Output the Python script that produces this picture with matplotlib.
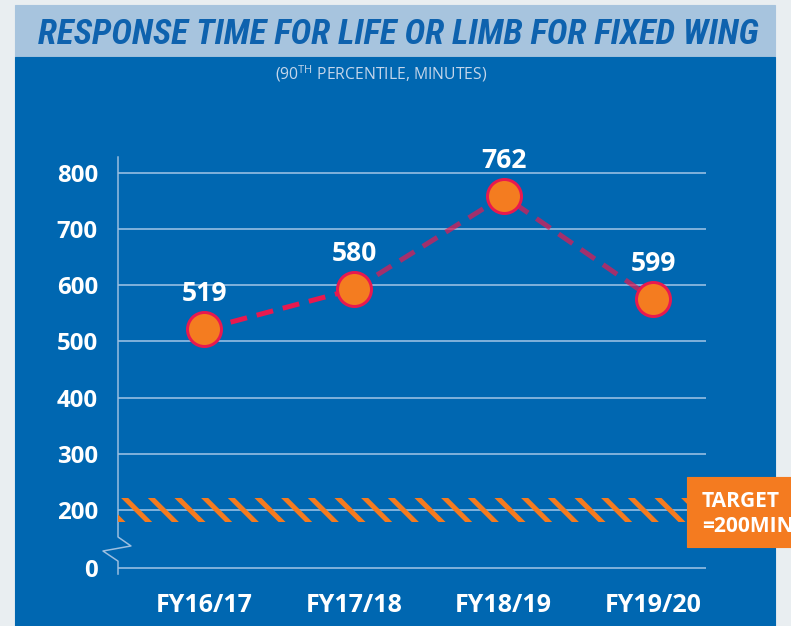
import matplotlib
matplotlib.use('Agg')
import matplotlib.pyplot as plt
from matplotlib.patches import Rectangle

# data
years = ['FY16/17', 'FY17/18', 'FY18/19', 'FY19/20']
labels = ['519', '580', '762', '599']
values = [522, 593, 759, 575]   # where the dots sit in the picture
target = 200
yticks = [0, 200, 300, 400, 500, 600, 700, 800]

W, H, DPI = 791, 626, 80
plt.rcParams['font.family'] = ['Open Sans', 'DejaVu Sans']
plt.rcParams['mathtext.fontset'] = 'custom'
plt.rcParams['mathtext.rm'] = 'Open Sans'
plt.rcParams['hatch.linewidth'] = 4.5
plt.rcParams['hatch.color'] = '#f47b20'

def px(v):
    return v * 72 / DPI

fig = plt.figure(figsize=(W / DPI, H / DPI), dpi=DPI, facecolor='#e9eef1')

# panel background
fig.patches.append(Rectangle((15 / W, 1 - 57 / H), 760 / W, 52 / H, transform=fig.transFigure,
                             color='#a7c4de', zorder=-2))
fig.patches.append(Rectangle((15 / W, 0), 760 / W, 1 - 57 / H, transform=fig.transFigure,
                             color='#0067b1', zorder=-2))

# title
title = fig.text(38 / W, 1 - 35 / H, 'RESPONSE TIME FOR LIFE OR LIMB FOR FIXED WING',
                 fontsize=20, fontweight='bold', fontstyle='italic', color='#0e62ae',
                 family='Roboto Condensed', ha='left', va='center')
r = fig.canvas.get_renderer()
title.set_fontsize(20 * 722 / title.get_window_extent(r).width)
fig.text(381 / W, 1 - 74 / H, '(90$^{\\rm TH}$ PERCENTILE, MINUTES)', fontsize=px(15.8),
         color='#c5d6ea', ha='center', va='center')

ax = fig.add_axes([118 / W, 1 - 575 / H, 588 / W, 418 / H])
ax.set_facecolor('none')
ax.set_xlim(-0.578, 3.352)
ax.set_ylim(84.3, 828.4)
for s in ax.spines.values():
    s.set_visible(False)

zero_pos = 97
ypos = [zero_pos if t == 0 else t for t in yticks]
for y in ypos:
    ax.axhline(y, color='#a6c8e8', lw=px(1.5), zorder=1)

# axis with break
axc = '#9dbfe0'
ax.plot([0, 0, 0.022, -0.0255, 0, 0], [828.4, 152, 136, 127, 109, 86],
        color=axc, lw=px(1.5), transform=ax.get_yaxis_transform(), clip_on=False, zorder=2)

# target band
ax.axhspan(target - 22, target + 22, facecolor='none', edgecolor='#f47b20', hatch='\\', lw=0, zorder=2)

ax.set_yticks(ypos, yticks)
ax.set_xticks(range(len(years)), years)
ax.tick_params(length=0, colors='white', labelsize=px(24))
ax.tick_params(axis='y', pad=px(20))
ax.tick_params(axis='x', pad=px(18), labelsize=px(25))
for t in ax.get_xticklabels() + ax.get_yticklabels():
    t.set_fontweight('bold')

x = list(range(len(values)))
red = '#e8194f'
ax.plot(x[:2], values[:2], color=red, lw=px(5), ls=(0, (3.4, 2.0)), zorder=3)
ax.plot(x[1:], values[1:], color=red, alpha=0.7, lw=px(5), ls=(0, (3.4, 2.0)), zorder=3)
ax.plot(x, values, 'o', ms=px(34), mfc='#f47c20', mec=red, mew=px(3), zorder=4, clip_on=False)
for xi, v, lab in zip(x, values, labels):
    ax.annotate(lab, (xi, v), xytext=(0, px(28)), textcoords='offset points', ha='center',
                va='baseline', color='white', fontsize=px(26.5), fontweight='bold')

# target box
fig.patches.append(Rectangle((687 / W, 1 - 547 / H), 120 / W, 70 / H, transform=fig.transFigure,
                             color='#f47b20', zorder=5))
fig.text(702 / W, 1 - 507 / H, 'TARGET', color='white', fontsize=px(21), fontweight='bold',
         va='baseline', zorder=6)
fig.text(702 / W, 1 - 532 / H, '=200MIN', color='white', fontsize=px(21), fontweight='bold',
         va='baseline', zorder=6)

fig.savefig('out.png', dpi=DPI, facecolor=fig.get_facecolor())
